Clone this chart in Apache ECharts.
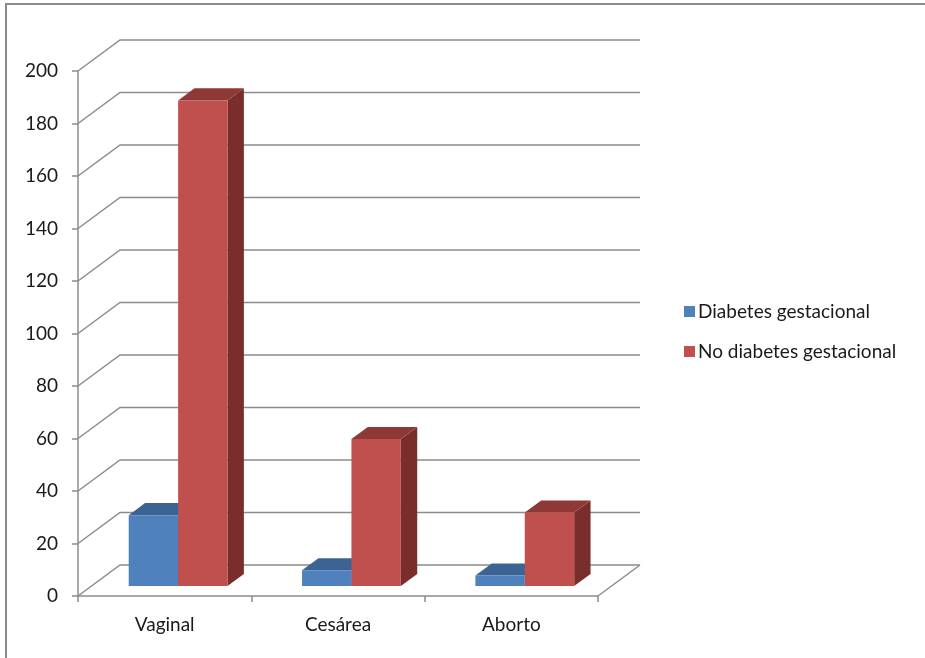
<!DOCTYPE html>
<html>
<head>
<meta charset="utf-8">
<script src="https://cdn.jsdelivr.net/npm/echarts@6/dist/echarts.min.js"></script>
<style>
  html, body { margin: 0; padding: 0; background: #fff; }
  #chart { width: 925px; height: 658px; }
</style>
</head>
<body>
<div id="chart"></div>
<script>
// Tipo de parto por grupo
const categories = ['Vaginal', 'Cesárea', 'Aborto'];
const seriesNames = ['Diabetes gestacional', 'No diabetes gestacional'];
const diabetes = [27, 6, 4];
const noDiabetes = [185, 56, 28];
const yTicks = [0, 20, 40, 60, 80, 100, 120, 140, 160, 180, 200];

// Pseudo-3D geometry (pixels)
const DEPTH_X = 42, DEPTH_Y = -31;          // full floor depth
const BAR_FRONT = 0.32, BAR_BACK = 0.71;    // bar depth slice within floor
const BAR_W = 0.285;                         // bar width as share of band

const faceColors = [
  { front: '#4F81BD', top: '#3B6393', side: '#2F4F78' },
  { front: '#C0504D', top: '#8E3936', side: '#7A2E2C' }
];
const gridColor = '#8c8c8c';
const FONT = 'Lato';
const FONT_SIZE = 19;

const chart = echarts.init(document.getElementById('chart'));

function wallRender(params, api) {
  const cs = params.coordSys;
  const v = api.value(0);
  const y = api.coord([0, v])[1];
  const x0 = cs.x;
  const right = cs.x + cs.width + DEPTH_X;
  const children = [{
    type: 'polyline',
    shape: { points: [[x0, y], [x0 + DEPTH_X, y + DEPTH_Y], [right, y + DEPTH_Y]] },
    style: { stroke: gridColor, lineWidth: 1.5, fill: null },
    silent: true
  }];
  if (v === 0) {
    children.push({
      type: 'line',
      shape: { x1: cs.x + cs.width, y1: y, x2: right, y2: y + DEPTH_Y },
      style: { stroke: gridColor, lineWidth: 1.5 },
      silent: true
    });
  }
  return { type: 'group', children: children };
}

function barRender(sIdx) {
  return function (params, api) {
    const c = api.value(0);
    const v = api.value(1);
    const top = api.coord([c, v]);
    const base = api.coord([c, 0]);
    const band = api.size([1, 0])[0];
    const w = band * BAR_W;
    const fx = BAR_FRONT * DEPTH_X, fy = BAR_FRONT * DEPTH_Y;
    const dx = (BAR_BACK - BAR_FRONT) * DEPTH_X, dy = (BAR_BACK - BAR_FRONT) * DEPTH_Y;
    const x1 = base[0] + fx + (sIdx === 0 ? -w : 0);
    const x2 = x1 + w;
    const yb = base[1] + fy;
    const yt = top[1] + fy;
    const col = faceColors[sIdx];
    return {
      type: 'group',
      children: [
        { type: 'polygon', shape: { points: [[x2, yb], [x2 + dx, yb + dy], [x2 + dx, yt + dy], [x2, yt]] },
          style: { fill: col.side } },
        { type: 'polygon', shape: { points: [[x1, yt], [x1 + dx, yt + dy], [x2 + dx, yt + dy], [x2, yt]] },
          style: { fill: col.top } },
        { type: 'rect', shape: { x: x1, y: yt, width: w, height: yb - yt },
          style: { fill: col.front } }
      ]
    };
  };
}

chart.setOption({
  animation: false,
  backgroundColor: '#ffffff',
  textStyle: { fontFamily: FONT, color: '#1a1a1a' },
  graphic: [{
    type: 'rect',
    shape: { x: 6, y: 4, width: 940, height: 680 },
    style: { fill: null, stroke: '#8a8a8a', lineWidth: 2 },
    silent: true
  }],
  legend: {
    orient: 'vertical',
    left: 679,
    top: 297,
    itemWidth: 11,
    itemHeight: 11,
    itemGap: 21,
    icon: 'rect',
    textStyle: { fontFamily: FONT, fontSize: FONT_SIZE, color: '#1a1a1a', padding: [0, 0, 0, -2] },
    data: [
      { name: seriesNames[0], itemStyle: { color: faceColors[0].front } },
      { name: seriesNames[1], itemStyle: { color: faceColors[1].front } }
    ]
  },
  grid: { left: 78, right: 327, top: 71, bottom: 62, containLabel: false },
  xAxis: {
    type: 'category',
    data: categories,
    boundaryGap: true,
    axisLine: { show: true, lineStyle: { color: gridColor, width: 1.5 } },
    axisTick: { show: true, length: 6, lineStyle: { color: gridColor, width: 1.5 } },
    axisLabel: { fontFamily: FONT, fontSize: FONT_SIZE, color: '#1a1a1a', margin: 19 },
    splitLine: { show: false }
  },
  yAxis: {
    type: 'value',
    min: 0,
    max: 200,
    interval: 20,
    axisLine: { show: true, lineStyle: { color: gridColor, width: 1.5 } },
    axisTick: { show: true, length: 6, lineStyle: { color: gridColor, width: 1.5 } },
    axisLabel: { fontFamily: FONT, fontSize: FONT_SIZE, color: '#1a1a1a', margin: 20 },
    splitLine: { show: false }
  },
  series: [
    {
      type: 'custom',
      name: 'wall',
      z: 1,
      silent: true,
      renderItem: wallRender,
      data: yTicks.map(v => [v]),
      encode: { y: 0 }
    },
    {
      type: 'custom',
      name: seriesNames[0],
      z: 3,
      itemStyle: { color: faceColors[0].front },
      renderItem: barRender(0),
      data: diabetes.map((v, i) => [i, v]),
      encode: { x: 0, y: 1 }
    },
    {
      type: 'custom',
      name: seriesNames[1],
      z: 4,
      itemStyle: { color: faceColors[1].front },
      renderItem: barRender(1),
      data: noDiabetes.map((v, i) => [i, v]),
      encode: { x: 0, y: 1 }
    }
  ]
});
</script>
</body>
</html>
